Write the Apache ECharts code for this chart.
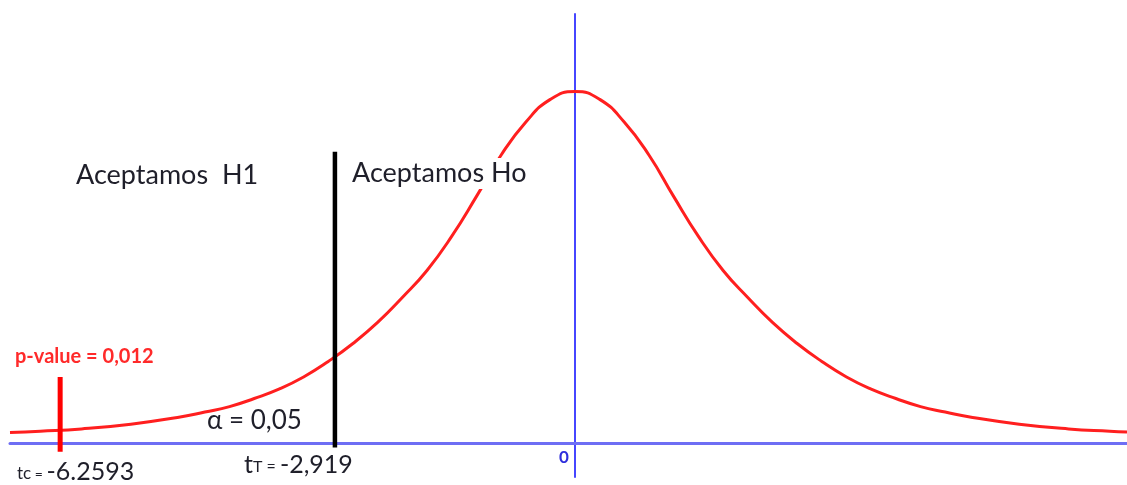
<!DOCTYPE html>
<html>
<head>
<meta charset="utf-8">
<script src="https://cdn.jsdelivr.net/npm/echarts@6/dist/echarts.min.js"></script>
<style>
  html, body { margin: 0; padding: 0; background: #ffffff; }
  #chart { width: 1127px; height: 485px; }
</style>
</head>
<body>
<div id="chart"></div>
<script>
// t statistic positions along the curve
const tValues = [-6.869, -6.5, -6.0, -5.4, -4.8, -4.5, -4.2, -3.9, -3.6, -3.3, -3.0, -2.7, -2.4, -2.1,
  -1.8, -1.5, -1.2, -0.9, -0.6, -0.3, 0, 0.3, 0.6, 0.9, 1.2, 1.5, 1.8,
  2.1, 2.4, 2.7, 3.0, 3.3, 3.6, 3.9, 4.2, 4.5, 4.8, 5.4, 6.0, 6.5, 6.71];
// curve height at each t value
const density = [0.0119, 0.0134, 0.0160, 0.0214, 0.0295, 0.0352, 0.0414, 0.0506, 0.0613, 0.0751, 0.0927, 0.1131, 0.1370, 0.1653,
  0.1961, 0.2348, 0.2800, 0.3270, 0.3645, 0.3905, 0.3994, 0.3905, 0.3645, 0.3270, 0.2800, 0.2348, 0.1961,
  0.1653, 0.1370, 0.1131, 0.0927, 0.0751, 0.0613, 0.0506, 0.0414, 0.0352, 0.0295, 0.0214, 0.0160, 0.0134, 0.0125];

// critical value (tT) and observed statistic (tc)
const criticalT = -2.919;
const observedT = -6.2593;
const criticalLine = [-0.005, 0.331];
const observedLine = [-0.010, 0.075];

// texts
const regionLabels = ['Aceptamos  H1', 'Aceptamos Ho'];
const alphaLabel = 'α = 0,05';
const pValueLabel = 'p-value = 0,012';
const criticalLabel = ['t', 'T = ', '-2,919'];
const observedLabel = ['tc', ' = ', '-6.2593'];
const originLabel = '0';

const curve = tValues.map((t, i) => [t, density[i]]);
const FONT = 'Lato, "Open Sans", sans-serif';
const TEXT = '#1f1f2a';

const chart = echarts.init(document.getElementById('chart'), null, { renderer: 'canvas' });
chart.setOption({
  animation: false,
  backgroundColor: '#ffffff',
  grid: { left: 10, right: 0, top: 14, bottom: 8 },
  xAxis: {
    type: 'value', min: -6.869, max: 6.710,
    axisLine: { onZero: true, lineStyle: { color: '#6e6ef4', width: 3 } },
    axisTick: { show: false }, axisLabel: { show: false }, splitLine: { show: false }
  },
  yAxis: {
    type: 'value', min: -0.0386, max: 0.4875,
    axisLine: { show: true, onZero: true, lineStyle: { color: '#4646ff', width: 2 } },
    axisTick: { show: false }, axisLabel: { show: false }, splitLine: { show: false }
  },
  series: [
    {
      type: 'line', data: curve, smooth: 0.5, showSymbol: false, z: 3,
      lineStyle: { color: '#ff1f1f', width: 3 }
    },
    {
      type: 'line', showSymbol: false, z: 4,
      data: criticalLine.map(v => [criticalT, v]),
      lineStyle: { color: '#000000', width: 4.5 }
    },
    {
      type: 'line', showSymbol: false, z: 4,
      data: observedLine.map(v => [observedT, v]),
      lineStyle: { color: '#ff0000', width: 5 }
    }
  ],
  graphic: [
    { type: 'text', left: 76, top: 162, z: 10, style: { text: regionLabels[0], font: '27px ' + FONT, fill: TEXT } },
    {
      type: 'text', left: 352, top: 158, z: 10,
      style: { text: regionLabels[1], font: '27px ' + FONT, fill: TEXT, backgroundColor: '#ffffff', padding: [2, 0, 2, 0] }
    },
    { type: 'text', left: 207, top: 408, z: 10, style: { text: alphaLabel, font: '26px ' + FONT, fill: TEXT } },
    { type: 'text', left: 15, top: 347, z: 10, style: { text: pValueLabel, font: 'bold 20px ' + FONT, fill: '#ff2a2a' } },
    { type: 'text', left: 559, top: 449, z: 10, style: { text: originLabel, font: 'bold 17px ' + FONT, fill: '#2f2fdc' } },
    {
      type: 'text', left: 244, top: 452, z: 10,
      style: {
        text: '{b|' + criticalLabel[0] + '}{s|' + criticalLabel[1] + '}{b|' + criticalLabel[2] + '}',
        fill: TEXT,
        rich: {
          b: { fontSize: 25, fontFamily: FONT, fill: TEXT, verticalAlign: 'bottom' },
          s: { fontSize: 16, fontFamily: FONT, fill: TEXT, verticalAlign: 'bottom', padding: [0, 0, 2, 0] }
        }
      }
    },
    {
      type: 'text', left: 17, top: 459, z: 10,
      style: {
        text: '{s|' + observedLabel[0] + '}{e|' + observedLabel[1] + '}{b|' + observedLabel[2] + '}',
        fill: TEXT,
        rich: {
          b: { fontSize: 25, fontFamily: FONT, fill: TEXT, verticalAlign: 'bottom' },
          s: { fontSize: 17, fontFamily: FONT, fill: TEXT, verticalAlign: 'bottom', padding: [0, 0, 2, 0] },
          e: { fontSize: 14, fontFamily: FONT, fill: TEXT, verticalAlign: 'bottom', padding: [0, 0, 3, 0] }
        }
      }
    }
  ]
});
</script>
</body>
</html>
